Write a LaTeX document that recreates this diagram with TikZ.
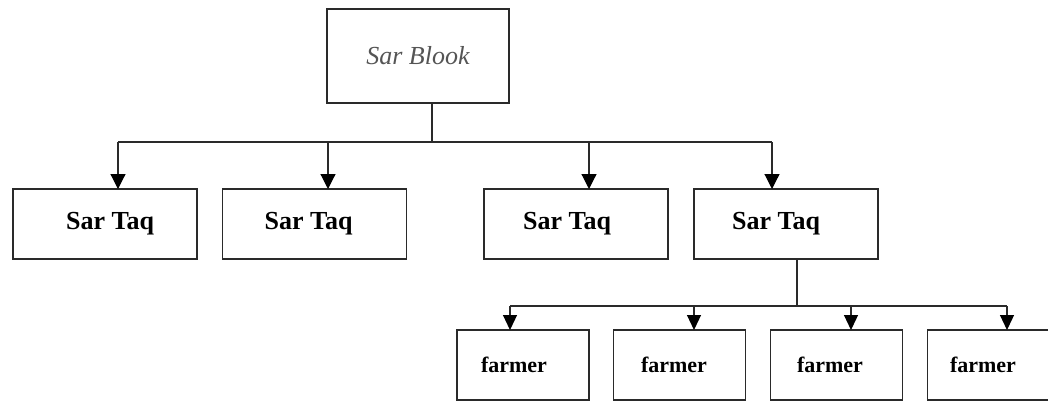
\documentclass[tikz,border=0pt]{standalone}
\usepackage{fontspec}
\setmainfont{Liberation Serif}
\usetikzlibrary{arrows.meta}
\definecolor{linegray}{HTML}{2A2A2A}
\definecolor{textgray}{HTML}{555555}
\begin{document}
\begin{tikzpicture}[x=1pt,y=-1pt,
  box/.style={draw=linegray,line width=1.2pt,inner sep=0pt},
  headbox/.style={box,minimum width=182pt,minimum height=94pt,font=\fontsize{26}{28}\selectfont\itshape,text=textgray},
  taqbox/.style={box,minimum width=184pt,minimum height=70pt,font=\fontsize{26}{28}\selectfont\bfseries},
  farmbox/.style={box,minimum width=132pt,minimum height=70pt,font=\fontsize{22}{24}\selectfont\bfseries},
  conn/.style={draw=linegray,line width=1.2pt},
  arr/.style={conn,-{Triangle[length=15pt,width=15pt,color=black]},shorten >=-0.6pt},
  farr/.style={conn,-{Triangle[length=15pt,width=14pt,color=black]},shorten >=-0.6pt}]
\useasboundingbox (0,0) rectangle (1048,401);
\clip (0,0) rectangle (1048,401);
\fill[white] (0,0) rectangle (1048,401);

\node[headbox] (top) at (418,56) {Sar Blook};
\node[taqbox] (t1) at (105,224) {\hspace*{10pt}Sar Taq};
\node[taqbox] (t2) at (314.5,224) {Sar Taq\hspace*{12pt}};
\node[taqbox] (t3) at (576,224) {Sar Taq\hspace*{18pt}};
\node[taqbox] (t4) at (786,224) {Sar Taq\hspace*{20pt}};
\node[farmbox] (f1) at (523,365) {farmer\hspace*{18pt}};
\node[farmbox] (f2) at (679.5,365) {farmer\hspace*{11pt}};
\node[farmbox] (f3) at (836.5,365) {farmer\hspace*{13pt}};
\node[farmbox] (f4) at (993.5,365) {farmer\hspace*{21pt}};

\coordinate (j1) at (432,142);
\coordinate (h1) at (118,142);
\coordinate (h2) at (328,142);
\coordinate (h3) at (589,142);
\coordinate (h4) at (772,142);
\path[conn] (j1 |- top.south) -- (j1);
\path[conn] (h1) -- (h4);
\path[arr] (h1) -- (h1 |- t1.north);
\path[arr] (h2) -- (h2 |- t2.north);
\path[arr] (h3) -- (h3 |- t3.north);
\path[arr] (h4) -- (h4 |- t4.north);

\coordinate (j2) at (797,306);
\coordinate (g1) at (510,306);
\coordinate (g2) at (694,306);
\coordinate (g3) at (851,306);
\coordinate (g4) at (1007,306);
\path[conn] (j2 |- t4.south) -- (j2);
\path[conn] (g1) -- (g4);
\path[farr] (g1) -- (g1 |- f1.north);
\path[farr] (g2) -- (g2 |- f2.north);
\path[farr] (g3) -- (g3 |- f3.north);
\path[farr] (g4) -- (g4 |- f4.north);
\end{tikzpicture}
\end{document}
